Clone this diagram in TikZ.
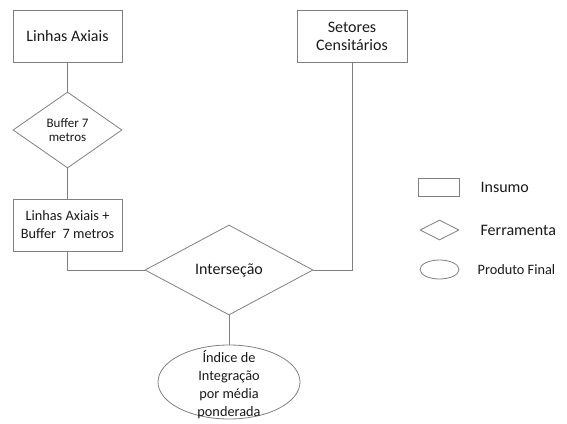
\documentclass[tikz,border=0pt]{standalone}
\usepackage{fontspec}
\setmainfont{Carlito}
\usepackage{tikz}
\usetikzlibrary{positioning,shapes.geometric}
\definecolor{linegray}{RGB}{128,128,128}
\definecolor{textgray}{RGB}{25,25,25}

\begin{document}
\begin{tikzpicture}[x=1pt,y=-1pt,
		every node/.style={font=\fontsize{16}{18}\selectfont, text=textgray},
		smalltext/.style={font=\fontsize{14.3}{18}\selectfont},
		insumo/.style={draw=linegray, line width=0.8pt, rectangle, align=center, inner sep=0pt},
		ferramenta/.style={draw=linegray, line width=0.8pt, diamond, align=center, inner sep=0pt},
		produto/.style={draw=linegray, line width=0.8pt, ellipse, inner sep=0pt},
		link/.style={draw=linegray, line width=0.8pt}]
		\useasboundingbox (0,0) rectangle (567,423);

		\node[insumo, minimum width=109, minimum height=52] (axiais) at (67.5,36) {Linhas Axiais};
		\node[ferramenta, minimum width=109, minimum height=76, font=\fontsize{13}{13.5}\selectfont] (buffer) at (67.5,130) {Buffer 7\\metros};
		\node[insumo, smalltext, minimum width=109, minimum height=52] (axbuf) at (67.5,225) {Linhas Axiais +\\Buffer~~7 metros};
		\node[insumo, minimum width=110, minimum height=52] (setores) at (352,36) {Setores\\Censitários};
		\node[ferramenta, minimum width=168, minimum height=90] (intersec) at (229,270) {Interseção};
		\node[produto, minimum width=142, minimum height=74,
			label={[smalltext, align=center, yshift=-3]center:Índice de\\Integração\\por média\\ponderada}] (indice) at (229,382) {};

		\draw[link] (axiais) -- (buffer);
		\draw[link] (buffer) -- (axbuf);
		\draw[link] (axbuf.south) |- (intersec.west);
		\draw[link] (setores.south) |- (intersec.east);
		\draw[link] (intersec) -- (indice);

		\node[insumo, minimum width=41, minimum height=18, label={[label distance=21, inner sep=0pt]right:Insumo}] (leginsumo) at (438.5,187) {};
		\node[ferramenta, minimum width=39, minimum height=20, label={[label distance=21, inner sep=0pt]right:Ferramenta}] (legferr) at (439.5,230) {};
		\node[produto, minimum width=39, minimum height=19, label={[smalltext, label distance=18, inner sep=0pt]right:Produto Final}] (legprod) at (439.5,269.5) {};
	\end{tikzpicture}
\end{document}
